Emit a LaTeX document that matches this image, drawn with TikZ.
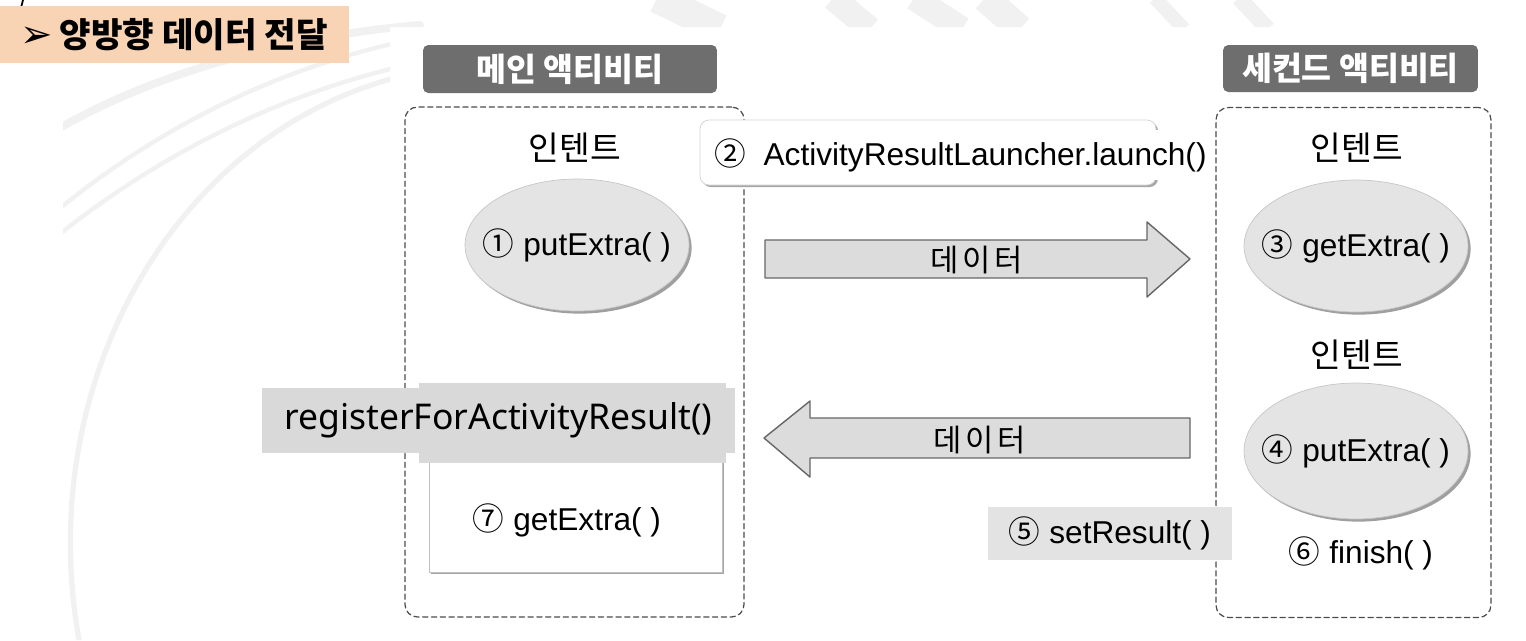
\documentclass[tikz,border=0pt]{standalone}
\usepackage{fontspec}
\setmainfont{Liberation Sans}
\newfontfamily\krfont{Noto Sans CJK KR}
\newfontfamily\regfont{Noto Sans}
\newfontfamily\symfont{DejaVu Sans}
\usetikzlibrary{shapes.geometric,shadows}
\definecolor{peach}{HTML}{F8D4B4}
\definecolor{hdrgray}{HTML}{6E6E6E}
\definecolor{boxgray}{HTML}{D9D9D9}
\definecolor{setgray}{HTML}{E3E3E3}
\definecolor{elgray}{HTML}{E4E4E4}
\definecolor{arrgray}{HTML}{DCDCDC}
\definecolor{bgarc}{HTML}{F1F1F1}
\newcommand{\cnum}[1]{{\krfont #1}}

\begin{document}
\begin{tikzpicture}[x=0.02cm,y=-0.02cm,line join=round,line cap=round,
    txt/.style={font=\fontsize{18}{21}\selectfont,inner sep=0pt},
    krtxt/.style={font=\krfont\fontsize{19}{22}\selectfont,inner sep=0pt},
    datatxt/.style={font=\krfont\fontsize{17.5}{20}\selectfont\addfontfeature{LetterSpace=12},inner sep=0pt},
    hdr/.style={fill=hdrgray,rounded corners=3pt,text=white,inner sep=0pt,font=\krfont\bfseries\fontsize{18.5}{21}\selectfont},
    actbox/.style={draw=gray!60!black,dash pattern=on 3pt off 2pt,rounded corners=7pt,line width=0.7pt,inner sep=0pt,minimum height=10.2cm},
    extra/.style={ellipse,fill=elgray,draw=gray!45,minimum width=4.48cm,minimum height=2.64cm,inner sep=0pt,
        drop shadow={shadow xshift=1.5pt,shadow yshift=-1.5pt,fill=gray!75,opacity=1}},
    shadebox/.style={fill=white,draw=gray!35,inner sep=0pt,drop shadow={shadow xshift=1.2pt,shadow yshift=-1.2pt,fill=gray!70,opacity=1}},
    dataarrow/.style={fill=arrgray,draw=gray!80!black,line width=0.8pt}]
    \useasboundingbox (0,0) rectangle (1526,640);
    % slide background
    \begin{scope}
        \clip (63,0) rectangle (390,640) (390,0) rectangle (1526,27);
        \draw[bgarc,line width=4.5pt] (40,140) .. controls (150,70) and (300,35) .. (420,25);
        \draw[bgarc,line width=2.5pt] (40,225) .. controls (150,130) and (280,65) .. (420,38);
        \draw[bgarc,line width=2.5pt] (40,250) .. controls (160,150) and (290,90) .. (420,62);
        \draw[bgarc,line width=3pt] (80,645) .. controls (30,380) and (180,120) .. (420,72);
        \foreach \a/\b/\w in {657/720/30,833/870/25,914/962/25,985/1020/28,1155/1184/14,1239/1268/16}
            \draw[bgarc,line width=\w*0.567pt,line cap=butt] (\a,-2) -- (\b,29);
    \end{scope}
    \draw[line width=1pt] (23,0) .. controls (21,8) .. (17,19);
    % title
    \node[fill=peach,minimum width=6.98cm,minimum height=1.14cm,inner sep=0pt] (titlebox) at (174.5,34.5) {};
    \node[anchor=west,inner sep=0pt,font=\krfont\bfseries\fontsize{19.5}{22}\selectfont] (title) at (20,35) {{\symfont\mdseries\fontsize{22}{22}\selectfont ➢}\hspace{4pt}양방향 데이터 전달};
    % activities
    \node[hdr,minimum width=5.88cm,minimum height=0.96cm] (mainhdr) at (570,69) {메인 액티비티};
    \node[hdr,minimum width=5.1cm,minimum height=0.94cm] (sechdr) at (1350.5,68.5) {세컨드 액티비티};
    \node[actbox,minimum width=6.78cm] (mainact) at (574.5,362) {};
    \node[actbox,minimum width=5.5cm] (secact) at (1353.5,362.5) {};
    \node[krtxt] (intent1) at (575,148) {인텐트};
    \node[krtxt] (intent3) at (1357,148) {인텐트};
    \node[krtxt] (intent4) at (1357,355) {인텐트};
    \node[extra] (put1) at (577,245) {};
    \node[txt] (put1txt) at (put1) {\cnum{①} putExtra( )};
    \node[extra] (get3) at (1356,246) {};
    \node[txt] (get3txt) at (get3) {\cnum{③} getExtra( )};
    \node[extra,minimum height=2.72cm] (put4) at (1356,451) {};
    \node[txt] (put4txt) at (put4) {\cnum{④} putExtra( )};
    % launch
    \node[shadebox,rounded corners=5pt,minimum width=9.12cm,minimum height=1.3cm] (launchbox) at (928,152.5) {};
    \node[txt,fill=white,anchor=west,inner xsep=3pt,inner ysep=5pt] (launch) at (709,155) {\cnum{②}\hspace{0.55em}ActivityResultLauncher.launch()};
    % data arrows
    \draw[dataarrow] (765,240) -- (1147,240) -- (1147,222) -- (1190,259) -- (1147,297) -- (1147,278) -- (765,278) -- cycle;
    \node[datatxt] (data1) at (977,260) {데이터};
    \draw[dataarrow] (1190,418) -- (810,418) -- (810,401) -- (764,438) -- (810,477) -- (810,458) -- (1190,458) -- cycle;
    \node[datatxt] (data2) at (980,440) {데이터};
    % result side
    \node[shadebox,draw=gray!50,minimum width=5.86cm,minimum height=3.78cm] (get7box) at (575.5,477.5) {};
    \node[fill=boxgray,minimum width=6.14cm,minimum height=1.6cm,inner sep=0pt] (reghead) at (572.5,423) {};
    \node[fill=boxgray,minimum width=9.46cm,minimum height=1.3cm,inner sep=0pt,font=\regfont\fontsize{20.2}{23}\selectfont] (register) at (498.5,420.5) {registerForActivityResult()};
    \node[txt] (get7) at (567,520) {\cnum{⑦} getExtra( )};
    \node[fill=setgray,minimum width=4.88cm,minimum height=1.06cm,inner sep=0pt,font=\fontsize{18}{21}\selectfont] (setres) at (1110,533.5) {\cnum{⑤} setResult( )};
    \node[txt] (finish) at (1361,553) {\cnum{⑥} finish( )};
\end{tikzpicture}
\end{document}
